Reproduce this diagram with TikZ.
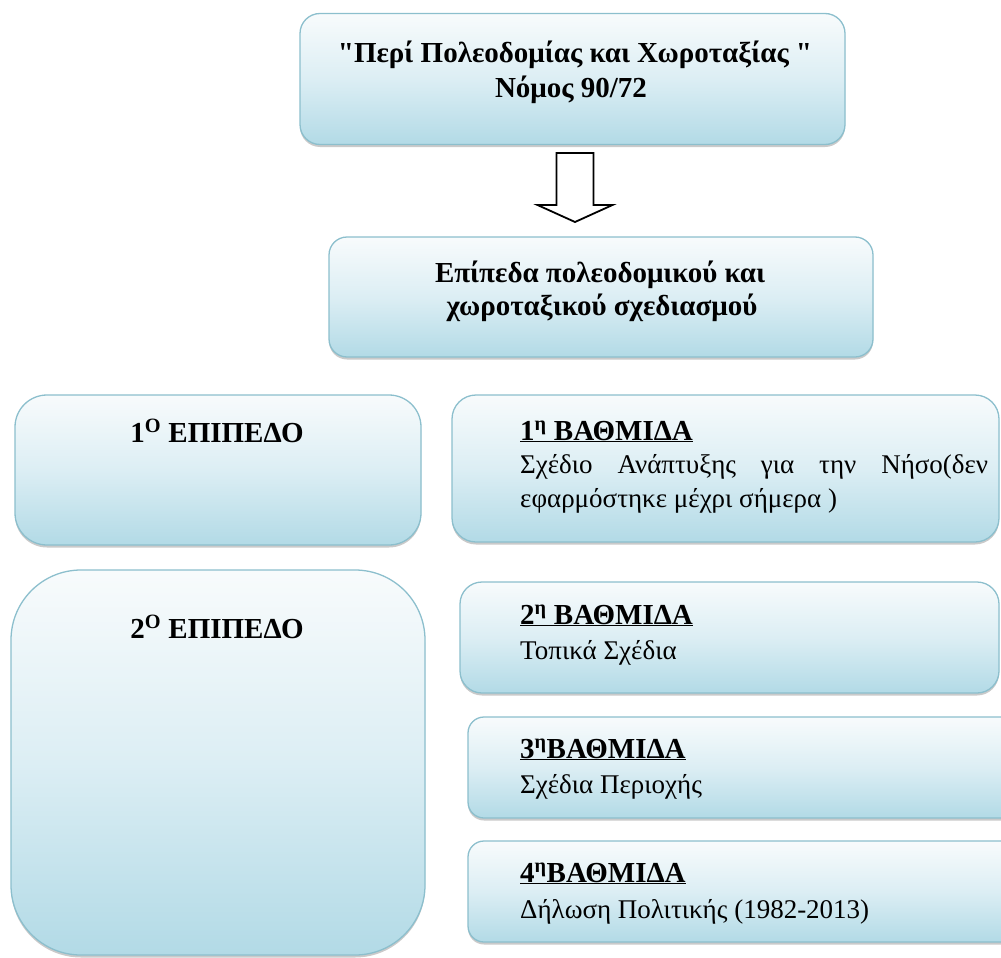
\documentclass[tikz,border=0pt]{standalone}
\usepackage{fontspec}
\setmainfont{Liberation Serif}[Ligatures=TeXOff]
\usetikzlibrary{shadows,calc}
\definecolor{bxtop}{HTML}{F8FBFC}
\definecolor{bxmid}{HTML}{DCEEF4}
\definecolor{bxbot}{HTML}{B2DAE6}
\definecolor{bxline}{HTML}{8CBFCD}
\tikzset{
  panel/.style={draw=bxline, line width=1.3pt, top color=bxtop, bottom color=bxbot,
    middle color=bxmid, inner sep=0pt,
    drop shadow={shadow xshift=0pt, shadow yshift=-2.5pt, opacity=0.35, fill=black!60}},
  headtxt/.style={font=\fontsize{29}{33}\selectfont\bfseries, inner sep=0pt},
  bodytxt/.style={font=\fontsize{27}{31}\selectfont, inner sep=0pt},
  blockarrow/.style={draw=black, line width=1.8pt, fill=white, line join=miter},
}
\begin{document}
\begin{tikzpicture}[x=1pt,y=-1pt]
\useasboundingbox (0,0) rectangle (1001,958);
% boxes
\node[panel, rounded corners=20pt, minimum width=545pt, minimum height=131pt] (title) at (572.5,79) {};
\node[panel, rounded corners=18pt, minimum width=544pt, minimum height=120pt] (levels) at (601,297) {};
\node[panel, rounded corners=32pt, minimum width=406pt, minimum height=150pt] (lvA) at (218,470) {};
\node[panel, rounded corners=70pt, minimum width=414pt, minimum height=385pt] (lvB) at (218,762.5) {};
\node[panel, rounded corners=24pt, minimum width=547pt, minimum height=147pt] (stA) at (725.5,468.5) {};
\node[panel, rounded corners=22pt, minimum width=539pt, minimum height=111pt] (stB) at (729.5,637.5) {};
\node[panel, rounded corners=16pt, minimum width=550pt, minimum height=101pt] (stC) at (743,767.5) {};
\node[panel, rounded corners=16pt, minimum width=550pt, minimum height=101pt] (stD) at (743,891.5) {};
% block arrow
\coordinate (aT) at (575,153);
\coordinate (aH) at (575,205);
\coordinate (aTip) at (575,222);
\draw[blockarrow] ($(aT)+(-18.5,0)$) -- ($(aT)+(18.5,0)$) -- ($(aH)+(18.5,0)$) -- ($(aH)+(37.5,0)$)
  -- (aTip) -- ($(aH)+(-37.5,0)$) -- ($(aH)+(-18.5,0)$) -- cycle;
% texts
\node[headtxt, anchor=base] (t1) at (575,63) {"Περί Πολεοδομίας και Χωροταξίας "};
\node[headtxt, anchor=base] (t2) at (571,97) {Νόμος 90/72};
\node[headtxt, anchor=base] (l1) at (600,282) {Επίπεδα πολεοδομικού και};
\node[headtxt, anchor=base] (l2) at (602,315) {χωροταξικού σχεδιασμού};
\node[headtxt, anchor=base] (la) at (217,442) {1\textsuperscript{O} ΕΠΙΠΕΔΟ};
\node[headtxt, anchor=base] (lb) at (217,638) {2\textsuperscript{O} ΕΠΙΠΕΔΟ};
\node[headtxt, anchor=base west] (sa1) at (520,440) {\underline{1\textsuperscript{η} ΒΑΘΜΙΔΑ}};
\node[bodytxt, anchor=base west] (sa2) at (520,473) {\makebox[468pt][s]{Σχέδιο Ανάπτυξης για την Νήσο(δεν}};
\node[bodytxt, anchor=base west] (sa3) at (520,507) {εφαρμόστηκε μέχρι σήμερα )};
\node[headtxt, anchor=base west] (sb1) at (520,624) {\underline{2\textsuperscript{η} ΒΑΘΜΙΔΑ}};
\node[bodytxt, anchor=base west] (sb2) at (520,659) {Τοπικά Σχέδια};
\node[headtxt, anchor=base west] (sc1) at (520,758) {\underline{3\textsuperscript{η}ΒΑΘΜΙΔΑ}};
\node[bodytxt, anchor=base west] (sc2) at (520,793) {Σχέδια Περιοχής};
\node[headtxt, anchor=base west] (sd1) at (520,882) {\underline{4\textsuperscript{η}ΒΑΘΜΙΔΑ}};
\node[bodytxt, anchor=base west] (sd2) at (520,918) {Δήλωση Πολιτικής (1982-2013)};
\end{tikzpicture}
\end{document}
